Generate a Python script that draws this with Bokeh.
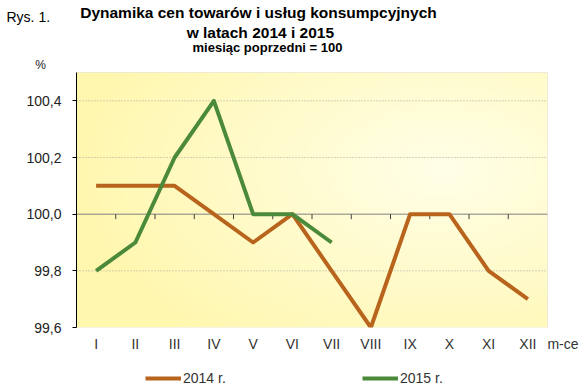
import numpy as np
from bokeh.plotting import figure
from bokeh.layouts import column, row
from bokeh.models import (FixedTicker, CustomJSTickFormatter, Legend, LegendItem, Range1d,
                          BoxAnnotation)
from bokeh.core.properties import value
from bokeh.embed import file_html
from bokeh.resources import INLINE

months = ["I", "II", "III", "IV", "V", "VI", "VII", "VIII", "IX", "X", "XI", "XII"]
y2014 = [100.1, 100.1, 100.1, 100.0, 99.9, 100.0, 99.8, 99.6, 100.0, 100.0, 99.8, 99.7]
y2015 = [99.8, 99.9, 100.2, 100.4, 100.0, 100.0, 99.9]
yticks = [99.6, 99.8, 100.0, 100.2, 100.4]
series_names = ["2014 r.", "2015 r."]
title_lines = ["Dynamika cen towarów i usług konsumpcyjnych", "w latach 2014 i  2015",
               "miesiąc poprzedni = 100"]
fig_label = "Rys. 1."
unit_label = "%"
x_unit_label = "m-ce"

FONT = "Liberation Sans"
C2014 = "#B8641C"
C2015 = "#4A8A3A"

# layout (pixels)
FIG_W = 584
HDR_H = 71
PLOT_L, PLOT_R, PLOT_T, PLOT_B = 76, 547, 72, 327
BOTTOM = 36
FTR_H = 27

def blank(w, h, xr, yr):
    f = figure(width=w, height=h, output_backend="svg", toolbar_location=None,
               x_range=Range1d(*xr), y_range=Range1d(*yr),
               x_axis_location=None, y_axis_location=None,
               min_border=0, min_border_left=0, min_border_right=0,
               min_border_top=0, min_border_bottom=0)
    f.outline_line_color = None
    f.background_fill_color = "white"
    f.border_fill_color = "white"
    f.grid.visible = False
    return f

def txt(f, x, y, s, size, bold=False, align="left", color="black"):
    f.text(x=[x], y=[y], text=[s], text_font=value(FONT), text_font_size=size,
           text_font_style="bold" if bold else "normal", text_align=align,
           text_baseline="middle", text_color=color)

# ---------- header ----------
hdr = blank(FIG_W, HDR_H, (0, FIG_W), (HDR_H, 0))
txt(hdr, 6, 16.5, fig_label, "14px")
txt(hdr, 258, 12, title_lines[0], "15.5px", bold=True, align="center")
txt(hdr, 262, 31.5, title_lines[1], "15.5px", bold=True, align="center")
txt(hdr, 267, 47, title_lines[2], "13px", bold=True, align="center")
txt(hdr, 40, 64.5, unit_label, "12px", align="center", color="#222222")

# ---------- main chart ----------
x_all = list(range(1, len(months) + 1))
xlo, xhi = 0.5, len(months) + 0.5
ylo, yhi = 99.6, 100.5
px_x = (PLOT_R - PLOT_L) / (xhi - xlo)
px_y = (PLOT_B - PLOT_T) / (yhi - ylo)
x_end = xhi + (FIG_W - PLOT_R) / px_x          # frame runs on to the right edge
y_top = yhi + (PLOT_T - HDR_H) / px_y
mce_x = xhi + 15.5 / px_x

p = figure(width=FIG_W, height=(PLOT_B - HDR_H) + BOTTOM, output_backend="svg",
           toolbar_location=None, x_range=Range1d(xlo, x_end), y_range=Range1d(ylo, y_top),
           min_border_left=PLOT_L, min_border_right=0, min_border_top=0,
           min_border_bottom=BOTTOM)
p.background_fill_color = "white"
p.border_fill_color = "white"
p.outline_line_color = None
p.grid.visible = False

# gradient plot area
H, W = 80, 160
X, Y = np.meshgrid(np.linspace(0, 1, W), np.linspace(0, 1, H))
d = np.sqrt((X - 0.78) ** 2 + ((Y - 0.62) / 1.1) ** 2)
t = np.clip(1 - d / 0.8, 0, 1)
A = np.array([255, 247, 174], dtype=float)
B = np.array([255, 255, 232], dtype=float)
img = np.empty((H, W), dtype=np.uint32)
view = img.view(dtype=np.uint8).reshape((H, W, 4))
for k in range(3):
    view[:, :, k] = (A[k] + (B[k] - A[k]) * t).astype(np.uint8)
view[:, :, 3] = 255
p.image_rgba(image=[img], x=xlo, y=ylo, dw=xhi - xlo, dh=yhi - ylo, level="image")
p.add_layout(BoxAnnotation(left=xlo, right=xhi, bottom=ylo, top=yhi, fill_alpha=0,
                           line_color="#C8C8B8", line_width=1, level="underlay"))

# dotted grid lines inside the plot area
grid_vals = [v for v in yticks if v not in (ylo, 100.0)]
p.segment(x0=[xlo] * len(grid_vals), y0=grid_vals, x1=[xhi] * len(grid_vals), y1=grid_vals,
          line_color="#A8A8A0", line_dash="1 2", line_width=1, level="underlay")

# base line at 100 with category-boundary ticks
p.segment(x0=[xlo], y0=[100.0], x1=[xhi], y1=[100.0], line_color="#808080", line_width=1)
bounds = [i + 0.5 for i in x_all[:-1]]
tick_len = 5 / px_y
p.segment(x0=bounds, y0=[100.0] * len(bounds), x1=bounds, y1=[100.0 - tick_len] * len(bounds),
          line_color="#404040", line_width=1)

# y axis
p.yaxis.bounds = (ylo, yhi)
p.yaxis.ticker = FixedTicker(ticks=yticks)
p.yaxis.formatter = CustomJSTickFormatter(code="return tick.toFixed(1).replace('.', ',')")
p.yaxis.axis_line_color = "black"
p.yaxis.major_tick_line_color = "black"
p.yaxis.major_tick_out = 4
p.yaxis.major_tick_in = 0
p.yaxis.minor_tick_line_color = None
p.yaxis.major_label_standoff = 11
p.yaxis.major_label_text_font = FONT
p.yaxis.major_label_text_font_size = "14px"
p.yaxis.major_label_text_color = "#222222"

# x axis (labels only) + unit label after the last month
p.xaxis.ticker = FixedTicker(ticks=x_all + [mce_x])
p.xaxis.formatter = CustomJSTickFormatter(
    args=dict(labels=months, unit=x_unit_label, last=len(months)),
    code="const i = Math.round(tick); return (tick > last + 0.5) ? unit : labels[i - 1];")
p.xaxis.axis_line_color = None
p.xaxis.major_tick_line_color = None
p.xaxis.minor_tick_line_color = None
p.xaxis.major_tick_out = 0
p.xaxis.major_tick_in = 0
p.xaxis.major_label_standoff = 8
p.xaxis.major_label_text_font = FONT
p.xaxis.major_label_text_font_size = "14px"
p.xaxis.major_label_text_color = "#333333"

p.line(x_all, y2014, line_color=C2014, line_width=4, line_join="round")
p.line(x_all[:len(y2015)], y2015, line_color=C2015, line_width=4, line_join="round")

# ---------- footer legend ----------
ftr = blank(FIG_W, FTR_H, (0, 1), (0, 1))
l1 = ftr.line(x_all, y2014, line_color=C2014, line_width=4)
l2 = ftr.line(x_all[:len(y2015)], y2015, line_color=C2015, line_width=4)
legend = Legend(items=[LegendItem(label=series_names[0], renderers=[l1]),
                       LegendItem(label=series_names[1], renderers=[l2])],
                orientation="horizontal", location=(145, 4),
                glyph_width=36, glyph_height=16, label_height=16, label_width=179,
                label_standoff=2, spacing=0, padding=0, margin=0,
                border_line_color=None, background_fill_alpha=0,
                label_text_font=FONT, label_text_font_size="14px", label_text_color="#333333")
ftr.add_layout(legend)

# wrapping each figure in its own row keeps the column from aligning their frames
layout = column(row(hdr), row(p), row(ftr))
open("out.html", "w").write(file_html(layout, INLINE))
